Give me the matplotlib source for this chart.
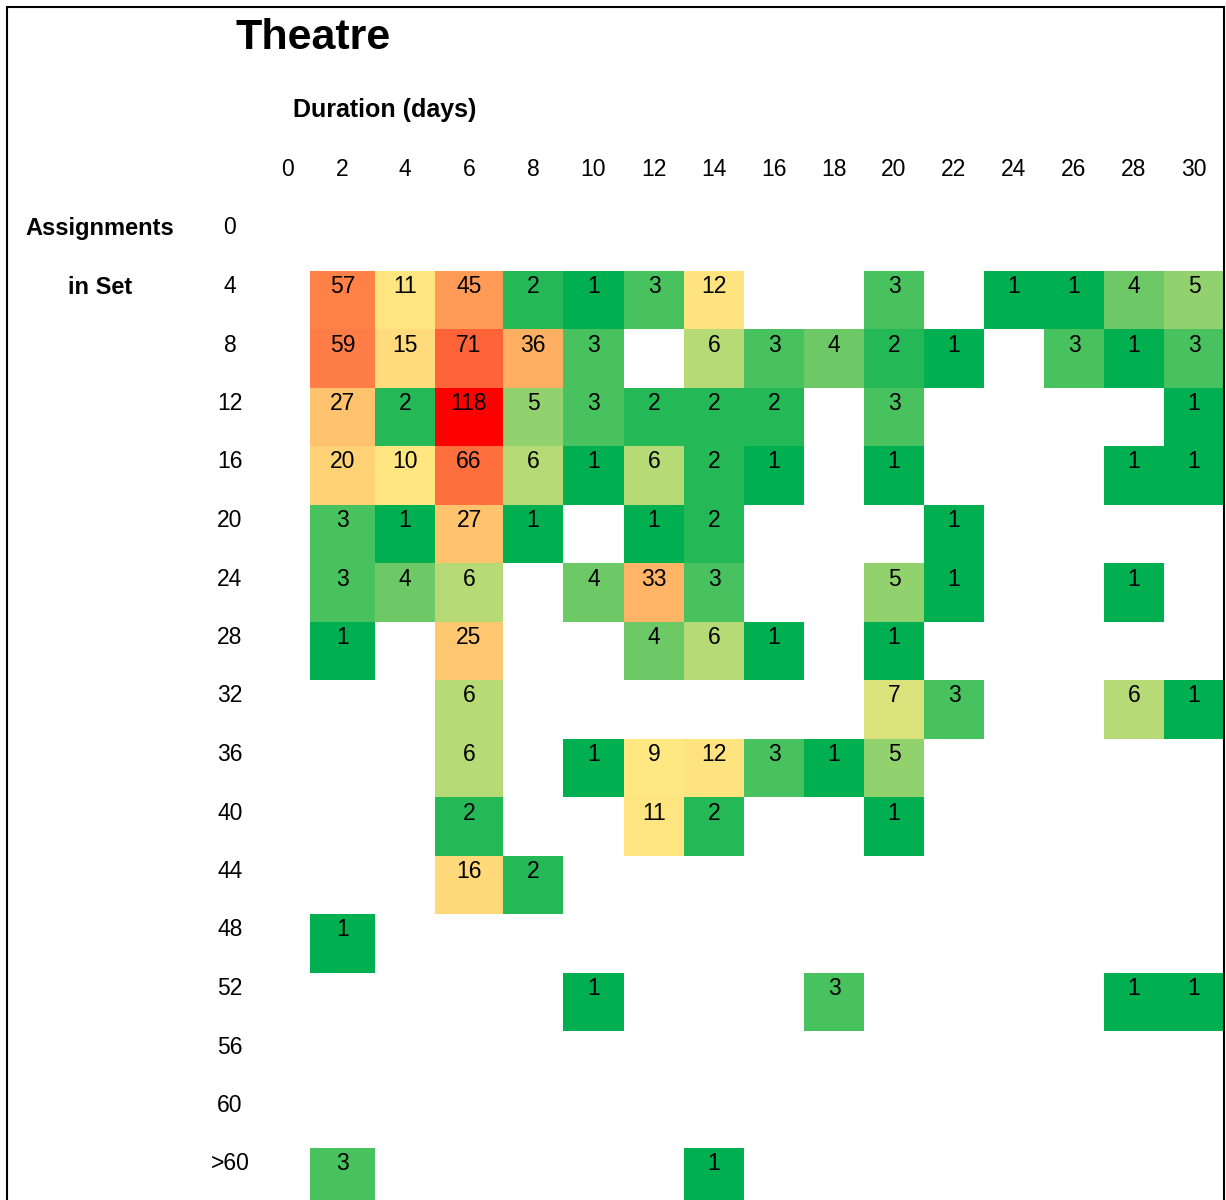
import numpy as np
import matplotlib
matplotlib.use('Agg')
import matplotlib.pyplot as plt
from matplotlib.colors import LinearSegmentedColormap, TwoSlopeNorm
from matplotlib.patches import Rectangle

plt.rcParams['font.family'] = ['Liberation Sans', 'DejaVu Sans']

durations = ['0', '2', '4', '6', '8', '10', '12', '14', '16', '18', '20', '22', '24', '26', '28', '30']
set_sizes = ['0', '4', '8', '12', '16', '20', '24', '28', '32', '36', '40', '44', '48', '52', '56', '60', '>60']

N = None
counts = [
    [N, N, N, N, N, N, N, N, N, N, N, N, N, N, N, N],          # 0
    [N, 57, 11, 45, 2, 1, 3, 12, N, N, 3, N, 1, 1, 4, 5],      # 4
    [N, 59, 15, 71, 36, 3, N, 6, 3, 4, 2, 1, N, 3, 1, 3],      # 8
    [N, 27, 2, 118, 5, 3, 2, 2, 2, N, 3, N, N, N, N, 1],       # 12
    [N, 20, 10, 66, 6, 1, 6, 2, 1, N, 1, N, N, N, 1, 1],       # 16
    [N, 3, 1, 27, 1, N, 1, 2, N, N, N, 1, N, N, N, N],         # 20
    [N, 3, 4, 6, N, 4, 33, 3, N, N, 5, 1, N, N, 1, N],         # 24
    [N, 1, N, 25, N, N, 4, 6, 1, N, 1, N, N, N, N, N],         # 28
    [N, N, N, 6, N, N, N, N, N, N, 7, 3, N, N, 6, 1],          # 32
    [N, N, N, 6, N, 1, 9, 12, 3, 1, 5, N, N, N, N, N],         # 36
    [N, N, N, 2, N, N, 11, 2, N, N, 1, N, N, N, N, N],         # 40
    [N, N, N, 16, 2, N, N, N, N, N, N, N, N, N, N, N],         # 44
    [N, 1, N, N, N, N, N, N, N, N, N, N, N, N, N, N],          # 48
    [N, N, N, N, N, 1, N, N, N, 3, N, N, N, N, 1, 1],          # 52
    [N, N, N, N, N, N, N, N, N, N, N, N, N, N, N, N],          # 56
    [N, N, N, N, N, N, N, N, N, N, N, N, N, N, N, N],          # 60
    [N, 3, N, N, N, N, N, 1, N, N, N, N, N, N, N, N],          # >60
]

vals = np.array([[np.nan if v is None else v for v in row] for row in counts], dtype=float)
data = np.ma.masked_invalid(vals)

# layout (pixels)
W, H = 1226, 1200
left, top = 270, 212
col_w = [40, 65, 60, 68, 60, 61, 60, 60, 60, 60, 60, 60, 60, 60, 60, 60]
row_h = 58.5

xedges = np.concatenate([[0], np.cumsum(col_w)])
yedges = np.arange(len(set_sizes) + 1) * row_h
grid_w = xedges[-1]
grid_h = H - top

fig = plt.figure(figsize=(W / 100, H / 100), dpi=100)
ax = fig.add_axes([left / W, 0, grid_w / W, grid_h / H])
ax.set_xlim(0, grid_w)
ax.set_ylim(grid_h, 0)
ax.axis('off')

cmap = LinearSegmentedColormap.from_list('excel', ['#00B050', '#FFEB84', '#FF0000'])
norm = TwoSlopeNorm(vmin=1, vcenter=8, vmax=118)
ax.pcolormesh(xedges, yedges, data, cmap=cmap, norm=norm, antialiased=False, edgecolors='none')

xc = (xedges[:-1] + xedges[1:]) / 2
for i in range(len(set_sizes)):
    for j in range(len(durations)):
        if not np.isnan(vals[i, j]):
            ax.text(xc[j], yedges[i] + 16, str(int(vals[i, j])), ha='center', va='center',
                    fontsize=16.5, color='black')

# column headers
for j, lab in enumerate(durations):
    ax.text(xc[j] - (2 if j == 0 else 0), -42, lab, ha='center', va='center', fontsize=16.5, clip_on=False)
# row labels
for i, lab in enumerate(set_sizes):
    ax.text(-40, yedges[i] + 16, lab, ha='center', va='center', fontsize=16.5, clip_on=False)

def ftext(x, y, s, **kw):
    fig.text(x / W, 1 - y / H, s, **kw)

ftext(313, 38, 'Theatre', ha='center', va='center', fontsize=31, fontweight='bold')
ftext(385, 110, 'Duration (days)', ha='center', va='center', fontsize=18, fontweight='bold')
ftext(100, 229, 'Assignments', ha='center', va='center', fontsize=17, fontweight='bold')
ftext(100, 287, 'in Set', ha='center', va='center', fontsize=17, fontweight='bold')

# page border
fig.add_artist(Rectangle((7 / W, -0.01), (1224 - 7) / W, 1 - 7 / H + 0.01,
                         transform=fig.transFigure, fill=False, edgecolor='black',
                         linewidth=1.5, clip_on=False))

fig.savefig('out.png', dpi=100)
